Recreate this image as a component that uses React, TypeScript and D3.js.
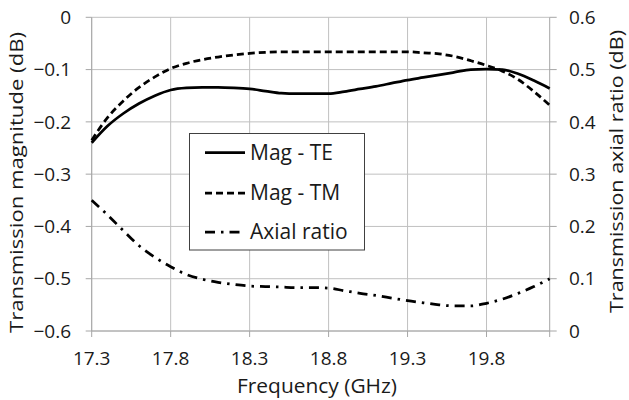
import React from "react";
import * as d3 from "d3";

const freqs = [17.3, 17.4, 17.5, 17.6, 17.7, 17.8, 17.9, 18.0, 18.1, 18.2, 18.3, 18.4, 18.5, 18.6, 18.7, 18.8, 18.9, 19.0, 19.1, 19.2, 19.3, 19.4, 19.5, 19.6, 19.7, 19.8, 19.9, 20.0, 20.1, 20.2];
const magTE = [-0.240, -0.208, -0.184, -0.165, -0.150, -0.139, -0.135, -0.134, -0.134, -0.135, -0.137, -0.141, -0.145, -0.146, -0.146, -0.146, -0.142, -0.137, -0.132, -0.126, -0.120, -0.115, -0.110, -0.105, -0.100, -0.099, -0.100, -0.108, -0.121, -0.136];
const magTM = [-0.235, -0.192, -0.160, -0.134, -0.114, -0.098, -0.088, -0.081, -0.076, -0.072, -0.069, -0.067, -0.066, -0.066, -0.066, -0.066, -0.066, -0.066, -0.066, -0.066, -0.066, -0.068, -0.070, -0.075, -0.083, -0.092, -0.103, -0.119, -0.142, -0.168];
const axialRatio = [0.250, 0.222, 0.192, 0.163, 0.141, 0.123, 0.108, 0.099, 0.093, 0.089, 0.086, 0.085, 0.084, 0.083, 0.083, 0.082, 0.077, 0.072, 0.068, 0.063, 0.058, 0.054, 0.050, 0.048, 0.048, 0.053, 0.061, 0.072, 0.085, 0.100];

const xTicks = [17.3, 17.8, 18.3, 18.8, 19.3, 19.8];
const leftTicks = [0, -0.1, -0.2, -0.3, -0.4, -0.5, -0.6];
const rightTicks = [0, 0.1, 0.2, 0.3, 0.4, 0.5, 0.6];
const seriesNames = ["Mag - TE", "Mag - TM", "Axial ratio"];

const FONT = "'Open Sans', sans-serif";
const TEXT = "#1a1a1a";
const GRID = "#c0c0c0";
const AXIS = "#a6a6a6";

export default function App() {
  const x = d3.scaleLinear().domain([17.3, 20.2]).range([91.7, 549.7]);
  const yL = d3.scaleLinear().domain([-0.6, 0]).range([331, 17.3]);
  const yR = d3.scaleLinear().domain([0, 0.6]).range([331, 17.3]);

  const lineL = d3.line<number>().x((_, i) => x(freqs[i])).y((d) => yL(d)).curve(d3.curveMonotoneX);
  const lineR = d3.line<number>().x((_, i) => x(freqs[i])).y((d) => yR(d)).curve(d3.curveMonotoneX);

  const [x0, x1] = x.range();
  const [yb, yt] = yL.range();

  const styles = [
    { dash: undefined as string | undefined },
    { dash: "7,4" },
    { dash: "10,6,2.5,6" },
  ];

  const legend = { x: 189.5, y: 133.5, w: 175, h: 116.5 };
  const legendRows = [152.7, 193, 232];

  return (
    <svg width={629} height={400} style={{ position: "absolute", left: 0, top: 0, background: "#fff" }} fontFamily={FONT}>
      {leftTicks.map((t) => (
        <line key={"hg" + t} x1={x0} x2={x1} y1={yL(t)} y2={yL(t)} stroke={GRID} strokeWidth={1} />
      ))}
      {xTicks.map((t) => (
        <line key={"vg" + t} x1={x(t)} x2={x(t)} y1={yt} y2={yb} stroke={GRID} strokeWidth={1} />
      ))}
      <line x1={x0} x2={x0} y1={yt} y2={yb} stroke={AXIS} />
      <line x1={x1} x2={x1} y1={yt} y2={yb} stroke={AXIS} />
      <line x1={x0} x2={x1} y1={yb} y2={yb} stroke={AXIS} />
      {leftTicks.map((t) => (
        <line key={"lt" + t} x1={x0 - 6} x2={x0} y1={yL(t)} y2={yL(t)} stroke={AXIS} />
      ))}
      {rightTicks.map((t) => (
        <line key={"rt" + t} x1={x1} x2={x1 + 7} y1={yR(t)} y2={yR(t)} stroke={AXIS} />
      ))}
      {[...xTicks, 20.2].map((t) => (
        <line key={"xt" + t} x1={x(t)} x2={x(t)} y1={yb} y2={yb + 6} stroke={AXIS} />
      ))}
      {leftTicks.map((t) => (
        <text key={"ll" + t} x={71} y={yL(t)} dy="0.35em" textAnchor="end" fontSize={19} fill={TEXT}>
          {t === 0 ? "0" : d3.format(".1f")(t)}
        </text>
      ))}
      {rightTicks.map((t) => (
        <text key={"rl" + t} x={569} y={yR(t)} dy="0.35em" textAnchor="start" fontSize={19} fill={TEXT}>
          {t === 0 ? "0" : d3.format(".1f")(t)}
        </text>
      ))}
      {xTicks.map((t) => (
        <text key={"xl" + t} x={x(t)} y={365} textAnchor="middle" fontSize={19} fill={TEXT}>
          {d3.format(".1f")(t)}
        </text>
      ))}
      <text x={317} y={393} textAnchor="middle" fontSize={19.5} fill={TEXT} textLength={160} lengthAdjust="spacingAndGlyphs">
        Frequency (GHz)
      </text>
      <text transform="translate(23,182.5) rotate(-90)" textAnchor="middle" fontSize={19} fill={TEXT} textLength={301} lengthAdjust="spacingAndGlyphs">
        Transmission magnitude (dB)
      </text>
      <text transform="translate(622.5,171.5) rotate(-90)" textAnchor="middle" fontSize={19} fill={TEXT} textLength={283} lengthAdjust="spacingAndGlyphs">
        Transmission axial ratio (dB)
      </text>
      <path d={lineL(magTE) || ""} fill="none" stroke="#000" strokeWidth={2.75} />
      <path d={lineL(magTM) || ""} fill="none" stroke="#000" strokeWidth={2.75} strokeDasharray={styles[1].dash} />
      <path d={lineR(axialRatio) || ""} fill="none" stroke="#000" strokeWidth={2.75} strokeDasharray={styles[2].dash} />
      <rect x={legend.x} y={legend.y} width={legend.w} height={legend.h} fill="#fff" stroke="#404040" strokeWidth={1} />
      {seriesNames.map((name, i) => (
        <g key={name}>
          <line x1={205} x2={245} y1={legendRows[i]} y2={legendRows[i]} stroke="#000" strokeWidth={2.75} strokeDasharray={styles[i].dash} />
          <text x={250} y={legendRows[i]} dy="0.35em" fontSize={21} fill={TEXT}>
            {name}
          </text>
        </g>
      ))}
    </svg>
  );
}
